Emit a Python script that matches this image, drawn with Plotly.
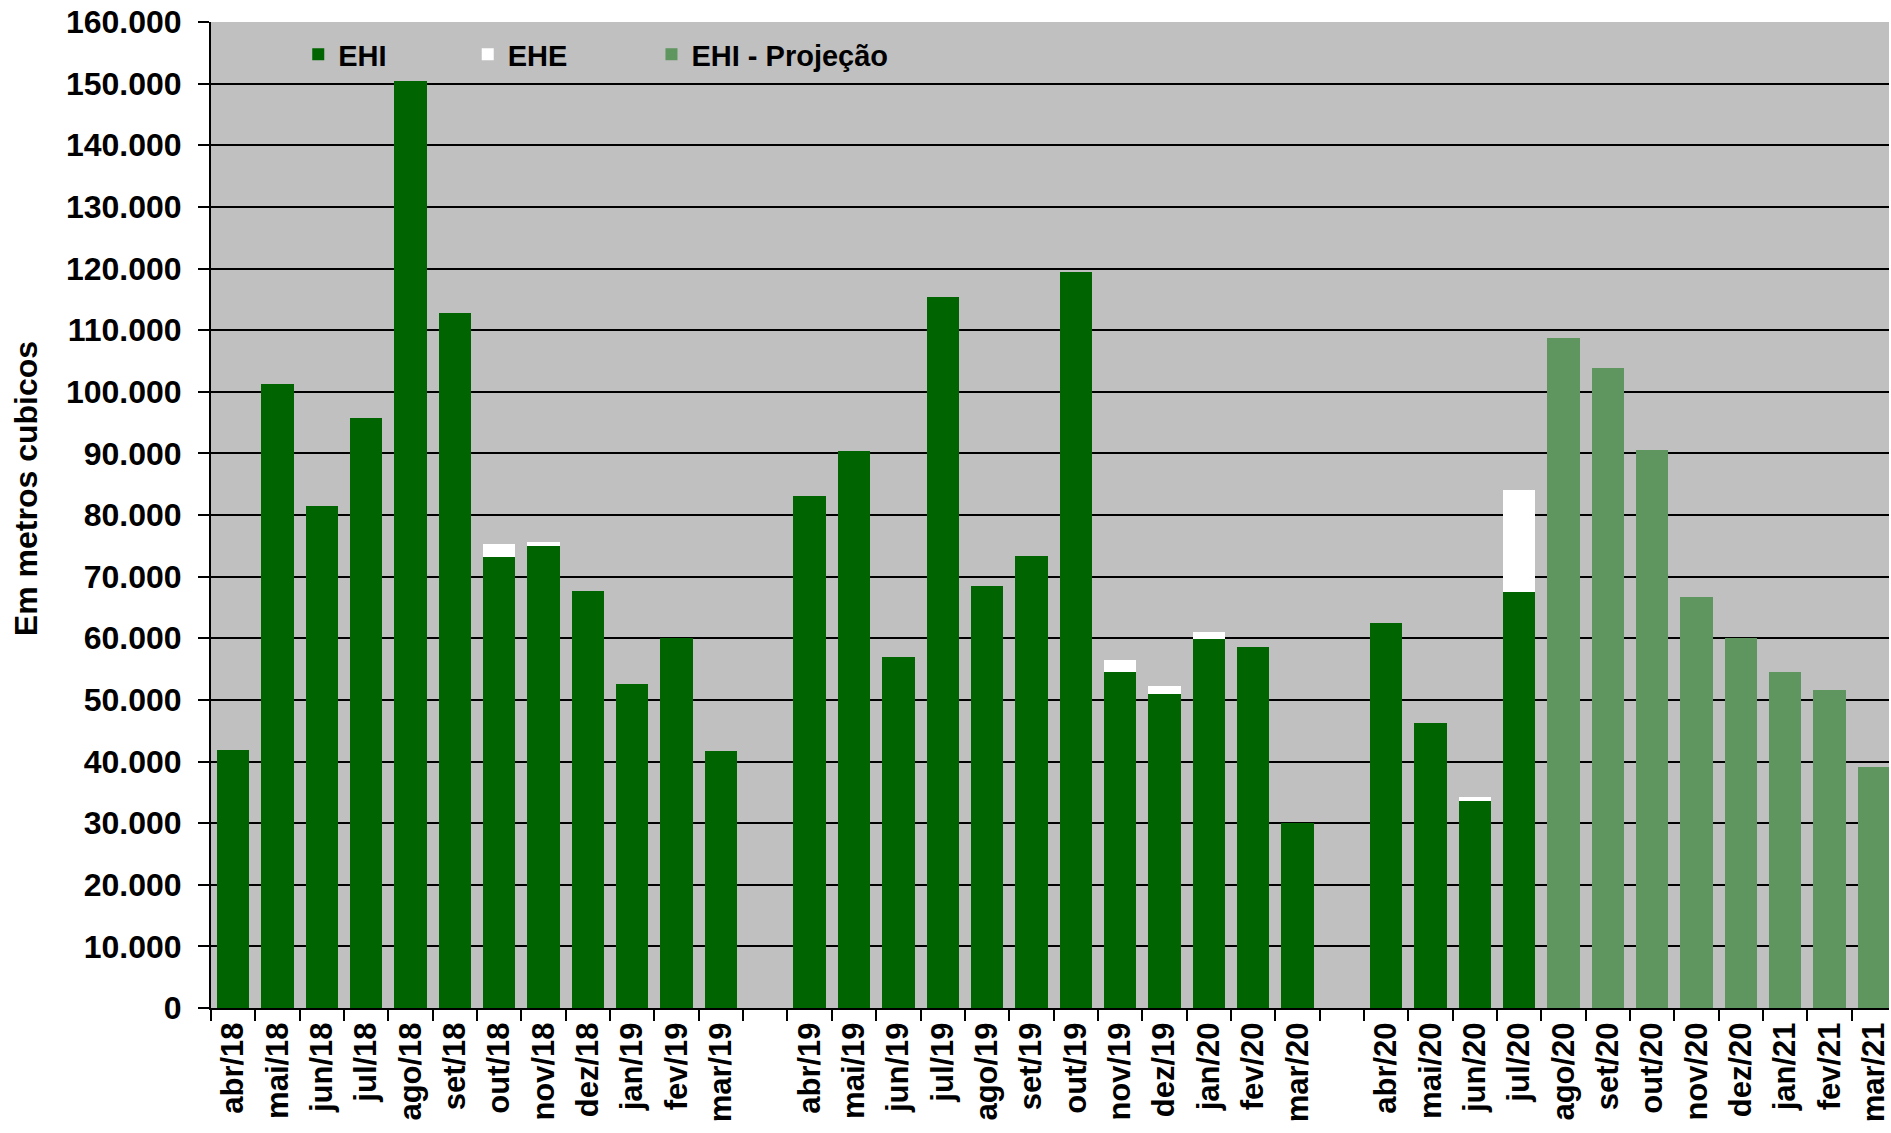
import plotly.graph_objects as go

# Month labels, April 2018 through March 2021
meses = [
    "abr/18", "mai/18", "jun/18", "jul/18", "ago/18", "set/18",
    "out/18", "nov/18", "dez/18", "jan/19", "fev/19", "mar/19",
    "abr/19", "mai/19", "jun/19", "jul/19", "ago/19", "set/19",
    "out/19", "nov/19", "dez/19", "jan/20", "fev/20", "mar/20",
    "abr/20", "mai/20", "jun/20", "jul/20", "ago/20", "set/20",
    "out/20", "nov/20", "dez/20", "jan/21", "fev/21", "mar/21",
]

# Realised volumes (m³), abr/18 .. jul/20
ehi = [
    41900, 101300, 81400, 95800, 150400, 112700,
    73200, 74900, 67700, 52600, 60000, 41700,
    83100, 90400, 56900, 115400, 68500, 73300,
    119500, 54600, 51000, 59900, 58500, 30100,
    62400, 46200, 33600, 67500,
]
ehe = [
    0, 0, 0, 0, 0, 0,
    2100, 800, 0, 0, 0, 0,
    0, 0, 0, 0, 0, 0,
    0, 1900, 1200, 1100, 0, 0,
    0, 0, 600, 16600,
]
# Projected volumes (m³), ago/20 .. mar/21
ehi_projecao = [108800, 103900, 90600, 66700, 60000, 54600, 51600, 39100]

# one empty slot between each April–March season
pos = [i + i // 12 for i in range(len(meses))]
n_real = len(ehi)

FONT = "Liberation Sans, Arial, sans-serif"
fig = go.Figure()
fig.add_bar(x=pos[:n_real], y=ehi, name="EHI", marker_color="#006400",
            marker_line_width=0, legend="legend")
fig.add_bar(x=pos[:n_real], y=ehe, name="EHE", marker_color="#FFFFFF",
            marker_line_width=0, legend="legend2")
fig.add_bar(x=pos[n_real:], y=ehi_projecao, name="EHI - Projeção",
            marker_color="#5F955F", marker_line_width=0, legend="legend3")


def legend_box(x):
    return dict(
        x=x, y=0.993, xanchor="left", yanchor="top",
        bgcolor="rgba(0,0,0,0)",
        font=dict(family=FONT, size=29, weight="bold"),
        itemwidth=30,
    )


fig.update_layout(
    width=1891, height=1133,
    margin=dict(l=211, r=0, t=22, b=125),
    paper_bgcolor="white",
    plot_bgcolor="#C0C0C0",
    barmode="stack",
    bargap=0.27,
    separators=",.",
    font=dict(family=FONT, size=30, color="black", weight="bold"),
    showlegend=True,
    legend=legend_box(0.052),
    legend2=legend_box(0.153),
    legend3=legend_box(0.2625),
    xaxis=dict(
        range=[-0.5, 37.34],
        tickmode="array", tickvals=pos, ticktext=meses,
        tickangle=-90, ticks="",
        ticklabeloverflow="allow",
        tickfont=dict(family=FONT, size=31, weight="bold"),
        showgrid=False, zeroline=False,
        showline=True, linecolor="black", linewidth=2,
        minor=dict(tickmode="array",
                   tickvals=[k - 0.5 for k in range(39)],
                   ticks="outside", ticklen=11, tickwidth=2,
                   tickcolor="black", showgrid=False),
    ),
    yaxis=dict(
        range=[0, 160000], dtick=10000, tickformat=",d",
        ticks="outside", ticklen=11, tickwidth=2, tickcolor="black",
        ticklabelstandoff=10,
        tickfont=dict(family=FONT, size=32, weight="bold"),
        showgrid=True, gridcolor="black", gridwidth=2,
        zeroline=False,
        showline=True, linecolor="black", linewidth=2,
    ),
    annotations=[dict(
        text="Em metros cubicos", textangle=-90,
        xref="paper", yref="paper", x=-0.1098, y=0.527,
        xanchor="center", yanchor="middle", showarrow=False,
        font=dict(family=FONT, size=32, weight="bold", color="black"),
    )],
)

fig.write_html("out.html")
